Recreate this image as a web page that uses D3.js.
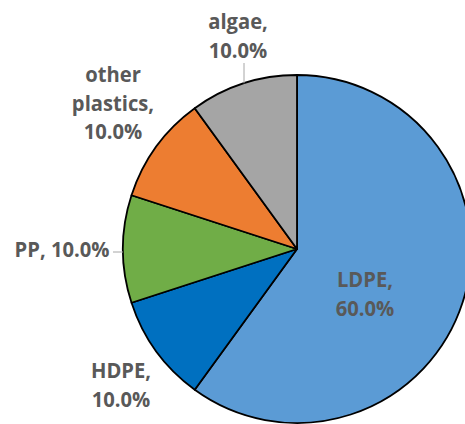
<!DOCTYPE html>
<html>
<head>
<meta charset="utf-8">
<script src="https://cdn.jsdelivr.net/npm/d3@7"></script>
<style>
  html, body { margin: 0; padding: 0; background: #fff; }
  svg { display: block; }
</style>
</head>
<body>
<svg id="chart" width="465" height="424"></svg>
<script>
// Composition of the sample (share of each material)
const categories = ["LDPE", "HDPE", "PP", "other plastics", "algae"];
const values = [60.0, 10.0, 10.0, 10.0, 10.0];
const colors = ["#5B9BD5", "#0070C0", "#70AD47", "#ED7D31", "#A5A5A5"];

// Label lines for each slice (name part, then percentage)
const labelLines = [
  ["LDPE,", "{p}"],
  ["HDPE,", "{p}"],
  ["PP, {p}"],
  ["other", "plastics,", "{p}"],
  ["algae,", "{p}"]
];

// Where each label block sits (centre x, first baseline y)
const labelPos = [
  [365, 287],
  [121, 378],
  [62, 257],
  [113, 82],
  [238, 29]
];

const svg = d3.select("#chart");
const cx = 297, cy = 249, R = 174;
const total = d3.sum(values);
const fmt = v => (v / total * 100).toFixed(1) + "%";

const data = categories.map((c, i) => ({ name: c, value: values[i], color: colors[i], i }));

const pie = d3.pie().value(d => d.value).sort(null);
const arc = d3.arc().innerRadius(0).outerRadius(R);
const arcs = pie(data);

const g = svg.append("g").attr("transform", `translate(${cx},${cy})`);

g.selectAll("path.slice")
  .data(arcs)
  .join("path")
  .attr("class", "slice")
  .attr("d", arc)
  .attr("fill", d => d.data.color)
  .attr("stroke", "#000")
  .attr("stroke-width", 1.8)
  .attr("stroke-linejoin", "round");

// Leader lines for the labels outside the pie
const leaderColor = "#A6A6A6";
// algae: short vertical tick down to the rim
{
  const x = 244 - cx;
  const yEdge = -Math.sqrt(R * R - x * x);
  g.append("line")
    .attr("x1", x).attr("x2", x)
    .attr("y1", 63 - cy).attr("y2", yEdge)
    .attr("stroke", leaderColor).attr("stroke-width", 1);
}
// PP: short horizontal tick across to the rim
{
  const y = 252 - cy;
  const xEdge = -Math.sqrt(R * R - y * y);
  g.append("line")
    .attr("x1", 113 - cx).attr("x2", xEdge)
    .attr("y1", y).attr("y2", y)
    .attr("stroke", leaderColor).attr("stroke-width", 1);
}

// Data labels
const lineH = 28.5;
arcs.forEach((a, i) => {
  const [lx, ly] = labelPos[i];
  const lines = labelLines[i].map(s => s.replace("{p}", fmt(a.data.value)));
  lines.forEach((s, k) => {
    svg.append("text")
      .attr("transform", `translate(${lx},${ly + k * lineH}) scale(1,1.07)`)
      .attr("text-anchor", "middle")
      .attr("font-family", "'Open Sans', sans-serif")
      .attr("font-weight", 700)
      .attr("font-size", 20.2)
      .attr("fill", "#595959")
      .text(s);
  });
});
</script>
</body>
</html>
